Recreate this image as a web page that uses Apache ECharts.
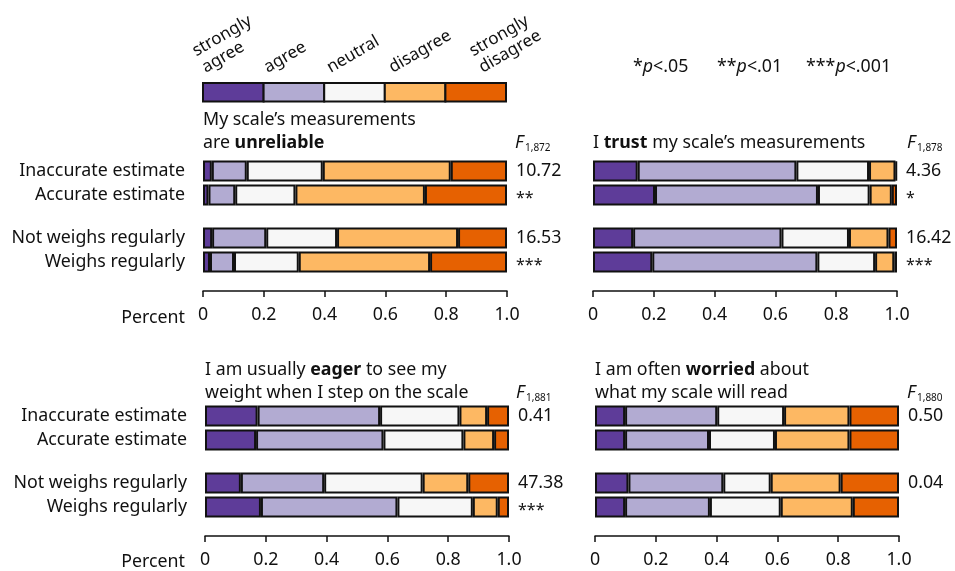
<!DOCTYPE html>
<html>
<head>
<meta charset="utf-8">
<title>Scale attitudes</title>
<script src="https://cdn.jsdelivr.net/npm/echarts@6/dist/echarts.min.js"></script>
<style>
  html, body { margin: 0; padding: 0; background: #fff; }
  #chart { width: 955px; height: 571px; }
</style>
</head>
<body>
<div id="chart"></div>
<script>
var FONT = '"Noto Sans", Lato, sans-serif';
var FS = 17.8;

var levels = ['strongly agree', 'agree', 'neutral', 'disagree', 'strongly disagree'];
var colors = ['#5e3c99', '#b2abd2', '#f7f7f7', '#fdb863', '#e66101'];

var groupA = ['Inaccurate estimate', 'Accurate estimate'];
var groupB = ['Not weighs regularly', 'Weighs regularly'];

// shares per row: [strongly agree, agree, neutral, disagree, strongly disagree]
var unreliable = [
  [0.029, 0.115, 0.250, 0.421, 0.185],
  [0.018, 0.088, 0.198, 0.426, 0.270],
  [0.030, 0.178, 0.233, 0.398, 0.161],
  [0.023, 0.079, 0.213, 0.432, 0.253]
];
var trust = [
  [0.147, 0.522, 0.239, 0.087, 0.005],
  [0.204, 0.536, 0.170, 0.073, 0.017],
  [0.132, 0.488, 0.222, 0.130, 0.028],
  [0.195, 0.543, 0.190, 0.063, 0.009]
];
var eager = [
  [0.173, 0.403, 0.261, 0.091, 0.072],
  [0.168, 0.419, 0.263, 0.101, 0.049],
  [0.118, 0.274, 0.324, 0.150, 0.134],
  [0.184, 0.449, 0.248, 0.082, 0.037]
];
var worried = [
  [0.099, 0.303, 0.220, 0.215, 0.163],
  [0.099, 0.276, 0.217, 0.245, 0.163],
  [0.110, 0.312, 0.156, 0.230, 0.192],
  [0.099, 0.279, 0.233, 0.237, 0.152]
];

// F statistics and stars, per group
var fUnreliable = ['10.72', '**', '16.53', '***'];
var fTrust = ['4.36', '*', '16.42', '***'];
var fEager = ['0.41', '', '47.38', '***'];
var fWorried = ['0.50', '', '0.04', ''];
var fDf = ['1,872', '1,878', '1,881', '1,880'];

var panels = [
  { data: unreliable, f: fUnreliable, left: 203, tops: [159, 226], showY: true },
  { data: trust, f: fTrust, left: 593, tops: [159, 226], showY: false },
  { data: eager, f: fEager, left: 205, tops: [404, 471], showY: true },
  { data: worried, f: fWorried, left: 595, tops: [404, 471], showY: false }
];

var grids = [], xAxes = [], yAxes = [], series = [];
panels.forEach(function (p, pi) {
  for (var g = 0; g < 2; g++) {
    var gi = grids.length;
    var isBottom = g === 1;
    grids.push({ left: p.left, top: p.tops[g], width: 304, height: 48 });
    xAxes.push({
      gridIndex: gi, type: 'value', min: 0, max: 1, interval: 0.2,
      offset: 17,
      splitLine: { show: false },
      axisLine: { show: isBottom, lineStyle: { color: '#111', width: 1.5 } },
      axisTick: { show: isBottom, length: 6, lineStyle: { color: '#111', width: 1.5 } },
      axisLabel: {
        show: isBottom, margin: 15, color: '#111', fontSize: FS, fontFamily: FONT,
        formatter: function (v) { return v === 0 ? '0' : v.toFixed(1); }
      }
    });
    var cats = g === 0 ? groupA : groupB;
    yAxes.push({
      gridIndex: gi, type: 'category', data: cats, inverse: true,
      axisLine: { show: false }, axisTick: { show: false },
      axisLabel: { show: p.showY, margin: 18, color: '#111', fontSize: FS, fontFamily: FONT }
    });
    yAxes.push({
      gridIndex: gi, type: 'category', position: 'right', inverse: true,
      data: [p.f[g * 2], p.f[g * 2 + 1]],
      axisLine: { show: false }, axisTick: { show: false },
      axisLabel: {
        margin: 9, color: '#111', fontSize: FS, fontFamily: FONT, align: 'left',
        formatter: function (v) { return v.indexOf('*') >= 0 ? '{s|' + v + '}' : v; },
        rich: { s: { fontSize: 16, fontFamily: FONT, color: '#111', padding: [7, 0, 0, 0] } }
      }
    });
    var rows = [p.data[g * 2], p.data[g * 2 + 1]];
    levels.forEach(function (lv, li) {
      series.push({
        type: 'bar', name: lv, stack: 's' + gi,
        xAxisIndex: gi, yAxisIndex: gi * 2,
        barWidth: 21,
        data: rows.map(function (r) { return r[li]; }),
        itemStyle: { color: colors[li], borderColor: '#111', borderWidth: 2 },
        silent: true
      });
    });
  }
});

var graphic = [];
function txt(x, y, text, extra) {
  var st = { x: x, y: y, text: text, fill: '#111', fontSize: FS, fontFamily: FONT,
             textAlign: 'left', textVerticalAlign: 'middle' };
  for (var k in extra) st[k] = extra[k];
  graphic.push({ type: 'text', style: st, silent: true });
}

// legend swatches and rotated labels
var legW = 303 / 5;
colors.forEach(function (c, i) {
  graphic.push({ type: 'rect', shape: { x: 203 + i * legW, y: 83, width: legW, height: 18.5 },
    style: { fill: c, stroke: '#111', lineWidth: 2 }, silent: true });
});
var legLabels = ['strongly\nagree', 'agree', 'neutral', 'disagree', 'strongly\ndisagree'];
var legPos = [[208, 77], [270, 77], [333, 77], [395, 77], [485, 77]];
legLabels.forEach(function (t, i) {
  graphic.push({ type: 'text', x: legPos[i][0], y: legPos[i][1], rotation: Math.PI / 6,
    style: { text: t, fill: '#111', fontSize: 17, fontFamily: FONT, lineHeight: 19,
             textAlign: 'left', textVerticalAlign: 'bottom' }, silent: true });
});

// significance key
var sigStars = ['*', '**', '***'];
var sigLevels = ['<.05', '<.01', '<.001'];
var sigX = [633, 717, 806];
sigStars.forEach(function (s, i) {
  txt(sigX[i], 67, '{n|' + s + '}{i|p}{n|' + sigLevels[i] + '}', {
    rich: {
      n: { fontSize: FS, fontFamily: FONT, fill: '#111' },
      i: { fontSize: FS, fontFamily: FONT, fontStyle: 'italic', fill: '#111' }
    }
  });
});

// panel titles
var rich = {
  n: { fontSize: FS, fontFamily: FONT, fill: '#111', lineHeight: 23 },
  b: { fontSize: FS, fontFamily: FONT, fontWeight: 'bold', fill: '#111', lineHeight: 23 }
};
txt(203, 108.5, '{n|My scale’s measurements}\n{n|are }{b|unreliable}', { rich: rich, textVerticalAlign: 'top' });
txt(593, 131.5, '{n|I }{b|trust}{n| my scale’s measurements}', { rich: rich, textVerticalAlign: 'top' });
txt(205, 358.5, '{n|I am usually }{b|eager}{n| to see my}\n{n|weight when I step on the scale}', { rich: rich, textVerticalAlign: 'top' });
txt(595, 358.5, '{n|I am often }{b|worried}{n| about}\n{n|what my scale will read}', { rich: rich, textVerticalAlign: 'top' });

// F labels with degrees of freedom
var fPos = [[515, 143], [907, 143], [516, 393], [907, 393]];
fPos.forEach(function (p, i) {
  txt(p[0], p[1], 'F', { fontStyle: 'italic' });
  txt(p[0] + 10, p[1] + 5, fDf[i], { fontSize: 10 });
});

txt(185, 318, 'Percent', { textAlign: 'right' });
txt(185, 562, 'Percent', { textAlign: 'right' });

var chart = echarts.init(document.getElementById('chart'));
chart.setOption({
  animation: false,
  backgroundColor: '#fff',
  grid: grids,
  xAxis: xAxes,
  yAxis: yAxes,
  series: series,
  graphic: graphic
});
</script>
</body>
</html>
